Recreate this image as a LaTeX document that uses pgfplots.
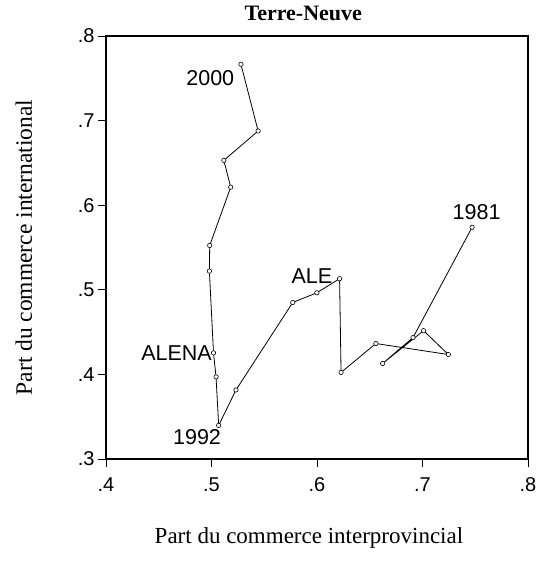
\documentclass[border=0pt]{standalone}
\usepackage{fontspec}
\setmainfont{Liberation Serif}
\newfontfamily\arial{Liberation Sans}
\usepackage{pgfplots}
\pgfplotsset{compat=1.18}
\begin{document}
\begin{tikzpicture}
\useasboundingbox (-106pt,-103pt) rectangle (433pt,459pt);
\begin{axis}[
  at={(0pt,0pt)}, anchor=south west,
  scale only axis, width=422pt, height=423pt,
  xmin=0.4, xmax=0.8, ymin=0.3, ymax=0.8,
  xtick={0.4,0.5,0.6,0.7,0.8}, xticklabels={.4,.5,.6,.7,.8},
  ytick={0.3,0.4,0.5,0.6,0.7,0.8}, yticklabels={.3,.4,.5,.6,.7,.8},
  tick align=outside, xtick pos=left, ytick pos=left,
  major tick length=8pt,
  tick style={black, line width=0.8pt},
  axis line style={line width=1.2pt},
  ticklabel style={font=\arial\fontsize{20}{20}\selectfont},
  xticklabel style={yshift=-7pt},
  title={\textbf{Terre-Neuve}},
  title style={font=\fontsize{22}{22}\selectfont, at={(axis description cs:0.4675,1)}, anchor=base, yshift=9pt},
  xlabel={Part du commerce interprovincial},
  xlabel style={font=\fontsize{23}{23}\selectfont, at={(axis description cs:0.481,0)}, anchor=base, yshift=-84pt},
  ylabel={Part du commerce international},
  ylabel style={font=\fontsize{23.5}{23.5}\selectfont, at={(axis description cs:-0.1754,0.5)}, anchor=base},
]
\addplot[black, line width=0.8pt, mark=*, mark size=2.2pt, mark options={fill=white, draw=black, line width=0.6pt}] coordinates {
(0.7470,0.5739) (0.6910,0.4435) (0.6622,0.4129) (0.7010,0.4517)
(0.7245,0.4235) (0.6558,0.4365) (0.6228,0.4023) (0.6214,0.5131)
(0.5999,0.4965) (0.5770,0.4850) (0.5232,0.3816) (0.5068,0.3397)
(0.5043,0.3971) (0.5019,0.4254) (0.4980,0.5221) (0.4983,0.5524)
(0.5182,0.6213) (0.5117,0.6530) (0.5442,0.6877) (0.5279,0.7666)
};
\node[font=\arial\fontsize{21.5}{21.5}\selectfont, inner sep=0pt, anchor=east] at (axis cs:0.5217,0.7507) {2000};
\node[font=\arial\fontsize{21.5}{21.5}\selectfont, inner sep=0pt] at (axis cs:0.7513,0.5917) {1981};
\node[font=\arial\fontsize{21.5}{21.5}\selectfont, inner sep=0pt, anchor=east] at (axis cs:0.6146,0.5156) {ALE};
\node[font=\arial\fontsize{21.5}{21.5}\selectfont, inner sep=0pt, anchor=east] at (axis cs:0.5005,0.4250) {ALENA};
\node[font=\arial\fontsize{21.5}{21.5}\selectfont, inner sep=0pt] at (axis cs:0.4863,0.3259) {1992};
\end{axis}
\end{tikzpicture}
\end{document}
